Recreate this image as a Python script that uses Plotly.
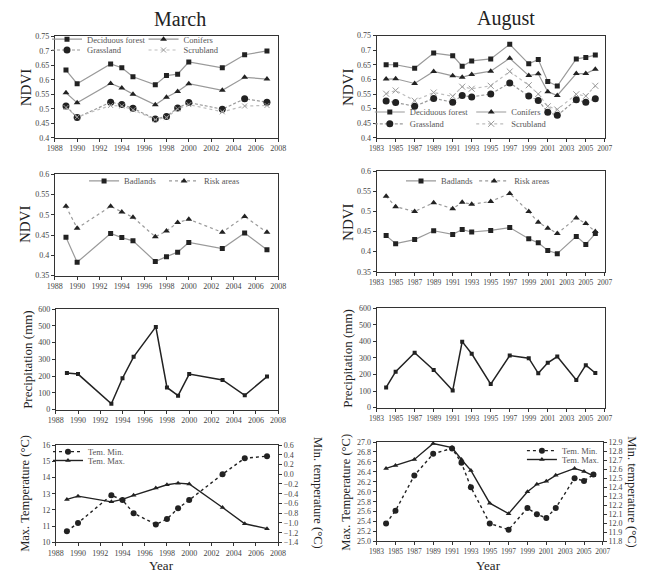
import plotly.graph_objects as go

W, H = 645, 576
FONT = "Liberation Serif"

# ---------------- data ----------------
march_years = [1989, 1990, 1993, 1994, 1995, 1997, 1998, 1999, 2000, 2003, 2005, 2007]
aug_years = [1984, 1985, 1987, 1989, 1991, 1992, 1993, 1995, 1997, 1999, 2000, 2001,
             2002, 2004, 2005, 2006]

# NDVI by land cover, March
mar_deciduous = [0.634, 0.587, 0.655, 0.642, 0.611, 0.583, 0.615, 0.620, 0.662, 0.642, 0.687, 0.700]
mar_conifers = [0.556, 0.521, 0.588, 0.572, 0.551, 0.514, 0.540, 0.560, 0.587, 0.564, 0.609, 0.603]
mar_grassland = [0.510, 0.470, 0.523, 0.515, 0.502, 0.465, 0.474, 0.503, 0.522, 0.499, 0.535, 0.523]
mar_scrubland = [0.505, 0.472, 0.512, 0.510, 0.497, 0.463, 0.470, 0.500, 0.515, 0.490, 0.510, 0.512]

# NDVI by land cover, August
aug_deciduous = [0.650, 0.650, 0.638, 0.690, 0.681, 0.645, 0.663, 0.670, 0.720, 0.653, 0.668,
                 0.593, 0.577, 0.670, 0.675, 0.683]
aug_conifers = [0.601, 0.602, 0.586, 0.627, 0.612, 0.607, 0.617, 0.628, 0.672, 0.613, 0.619,
                0.558, 0.545, 0.620, 0.620, 0.635]
aug_grassland = [0.526, 0.521, 0.508, 0.535, 0.522, 0.545, 0.540, 0.550, 0.588, 0.543, 0.528,
                 0.488, 0.477, 0.530, 0.522, 0.534]
aug_scrubland = [0.551, 0.562, 0.527, 0.555, 0.542, 0.575, 0.568, 0.578, 0.627, 0.580, 0.550,
                 0.508, 0.497, 0.549, 0.543, 0.578]

# NDVI of badlands and risk areas
mar_badlands = [0.445, 0.383, 0.454, 0.444, 0.436, 0.385, 0.397, 0.408, 0.432, 0.417, 0.455, 0.414]
mar_risk = [0.521, 0.467, 0.521, 0.507, 0.494, 0.446, 0.460, 0.481, 0.489, 0.457, 0.496, 0.457]
aug_badlands = [0.440, 0.420, 0.430, 0.452, 0.443, 0.455, 0.449, 0.453, 0.460, 0.432, 0.422,
                0.403, 0.395, 0.438, 0.418, 0.445]
aug_risk = [0.538, 0.512, 0.500, 0.522, 0.507, 0.523, 0.518, 0.525, 0.545, 0.500, 0.473,
            0.458, 0.445, 0.484, 0.470, 0.450]

# Precipitation (mm)
mar_precip = [218, 212, 35, 187, 315, 494, 132, 83, 212, 177, 85, 197]
aug_precip = [122, 217, 331, 227, 103, 398, 325, 142, 314, 298, 207, 270, 308, 166, 256, 209]

# Temperatures (degC)
mar_tmax = [12.65, 12.85, 12.50, 12.65, 12.90, 13.35, 13.55, 13.65, 13.60, 12.15, 11.15, 10.85]
mar_tmin = [-1.17, -1.00, -0.43, -0.53, -0.80, -1.03, -0.92, -0.70, -0.53, 0.00, 0.33, 0.37]
aug_tmax = [26.47, 26.53, 26.65, 26.97, 26.89, 26.65, 26.43, 25.77, 25.56, 26.00, 26.15,
            26.21, 26.33, 26.47, 26.41, 26.32]
aug_tmin = [12.00, 12.14, 12.53, 12.77, 12.83, 12.67, 12.40, 12.00, 11.93, 12.17, 12.10,
            12.06, 12.17, 12.50, 12.47, 12.54]

# ---------------- layout helpers ----------------
def xdom(l, r):
    return [l / W, r / W]


def ydom(t, b):
    return [1 - b / H, 1 - t / H]


GRAY = "#9a9a9a"
INK = "#222222"
TICKFONT = dict(family=FONT, size=8, color="#444444")

fig = go.Figure()
legends = {}


def legend_at(px, py):
    # single-entry legend box; px/py are the box's top-left corner in pixels
    return dict(x=px / W, y=1 - py / H, xanchor="left", yanchor="top",
                orientation="v", bgcolor="rgba(0,0,0,0)", borderwidth=0,
                font=dict(family=FONT, size=8.5, color="#555555"), itemwidth=30,
                tracegroupgap=0)


def line_trace(x, y, name, ax, legpos, color, dash, width, symbol, msize, mcolor,
               yaxis=None, mline=None):
    key = "legend" if not legends else f"legend{len(legends) + 1}"
    legends[key] = legend_at(*legpos)
    marker = dict(symbol=symbol, size=msize, color=mcolor)
    if mline:
        marker["line"] = mline
    fig.add_trace(go.Scatter(
        x=x, y=y, name=name, mode="lines+markers",
        xaxis=f"x{ax}", yaxis=yaxis or f"y{ax}", legend=key,
        line=dict(color=color, width=width, dash=dash),
        marker=marker,
    ))


SCRUB = dict(color="#999999", width=1)

# March NDVI land cover (axis 1)
line_trace(march_years, mar_deciduous, "Deciduous forest", 1, (40, 21), GRAY, "solid", 1.2,
           "square", 5, INK)
line_trace(march_years, mar_conifers, "Conifers", 1, (139, 21), GRAY, "solid", 1.2,
           "triangle-up", 6, INK)
line_trace(march_years, mar_grassland, "Grassland", 1, (40, 32), GRAY, "3px,2px", 1.2,
           "circle", 7, INK)
line_trace(march_years, mar_scrubland, "Scrubland", 1, (139, 32), "#bdbdbd", "dot", 1.2,
           "x-thin", 5, "#999999", mline=SCRUB)

# August NDVI land cover (axis 2)
line_trace(aug_years, aug_deciduous, "Deciduous forest", 2, (371, 95), GRAY, "solid", 1.2,
           "square", 5, INK)
line_trace(aug_years, aug_conifers, "Conifers", 2, (475, 95), GRAY, "solid", 1.2,
           "triangle-up", 6, INK)
line_trace(aug_years, aug_grassland, "Grassland", 2, (371, 107), GRAY, "3px,2px", 1.2,
           "circle", 7, INK)
line_trace(aug_years, aug_scrubland, "Scrubland", 2, (475, 107), "#bdbdbd", "dot", 1.2,
           "x-thin", 6, "#999999", mline=SCRUB)

# Badlands and risk areas (axes 3, 4)
line_trace(march_years, mar_badlands, "Badlands", 3, (78, 165), GRAY, "solid", 1.2,
           "square", 5, INK)
line_trace(march_years, mar_risk, "Risk areas", 3, (160, 165), GRAY, "dot", 1.2,
           "triangle-up", 6, INK)
line_trace(aug_years, aug_badlands, "Badlands", 4, (403, 165), GRAY, "solid", 1.2,
           "square", 5, INK)
line_trace(aug_years, aug_risk, "Risk areas", 4, (478, 165), GRAY, "dot", 1.2,
           "triangle-up", 6, INK)

# Precipitation (axes 5, 6)
for ax, yrs, vals in [(5, march_years, mar_precip), (6, aug_years, aug_precip)]:
    fig.add_trace(go.Scatter(
        x=yrs, y=vals, mode="lines+markers", showlegend=False,
        xaxis=f"x{ax}", yaxis=f"y{ax}",
        line=dict(color=INK, width=1.5), marker=dict(symbol="square", size=4, color=INK),
    ))

# Temperatures (axes 7, 8; minimum on right-hand axes 9, 10)
line_trace(march_years, mar_tmin, "Tem. Min.", 7, (41, 440), INK, "dot", 1.4,
           "circle", 6, INK, yaxis="y9")
line_trace(march_years, mar_tmax, "Tem. Max.", 7, (41, 449), INK, "solid", 1.4,
           "triangle-up", 5, INK)
line_trace(aug_years, aug_tmin, "Tem. Min.", 8, (527, 439), INK, "dot", 1.4,
           "circle", 6, INK, yaxis="y10")
line_trace(aug_years, aug_tmax, "Tem. Max.", 8, (527, 448), INK, "solid", 1.4,
           "triangle-up", 5, INK)

# panel boxes in pixels: (left, right), (top, bottom)
panels = {
    1: ((48, 277), (33, 136)),
    2: ((378, 612), (32, 136)),
    3: ((48, 277), (173, 276)),
    4: ((378, 612), (170, 272)),
    5: ((49, 277), (310, 412)),
    6: ((378, 612), (309, 410)),
    7: ((49, 277), (448, 547)),
    8: ((378, 610), (445, 546)),
}

axis_style = dict(showline=True, linecolor="#333333", linewidth=1, mirror=True,
                  ticks="outside", ticklen=3, tickcolor="#333333", tickwidth=1,
                  tickfont=TICKFONT, showgrid=False, zeroline=False)

y_ranges = {
    1: dict(range=[0.4, 0.75], dtick=0.05, tick0=0.4),
    2: dict(range=[0.4, 0.75], dtick=0.05, tick0=0.4),
    3: dict(range=[0.35, 0.6], dtick=0.05, tick0=0.35),
    4: dict(range=[0.35, 0.6], dtick=0.05, tick0=0.35),
    5: dict(range=[0, 600], dtick=100, tick0=0),
    6: dict(range=[0, 600], dtick=100, tick0=0),
    7: dict(range=[10, 16], dtick=1, tick0=10),
    8: dict(range=[25, 27], dtick=0.2, tick0=25, tickformat=".1f"),
}

layout = {}
for i, ((l, r), (t, b)) in panels.items():
    march = i % 2 == 1
    xr = dict(range=[1988, 2008], dtick=2, tick0=1988) if march else \
        dict(range=[1983, 2007], dtick=2, tick0=1983)
    xfont = TICKFONT if march else dict(TICKFONT, size=7.5)
    layout[f"xaxis{i}"] = dict(axis_style, domain=xdom(l, r), anchor=f"y{i}",
                               tickfont=xfont, **xr)
    layout[f"yaxis{i}"] = dict(axis_style, domain=ydom(t, b), anchor=f"x{i}", **y_ranges[i])

layout["yaxis9"] = dict(axis_style, overlaying="y7", side="right", anchor="x7",
                        range=[-1.4, 0.6], dtick=0.2, tick0=-1.4, tickformat=".1f",
                        mirror=False)
layout["yaxis10"] = dict(axis_style, overlaying="y8", side="right", anchor="x8",
                         range=[11.8, 12.9], dtick=0.1, tick0=11.8, tickformat=".1f",
                         mirror=False)
layout.update(legends)


def ann(text, px, py, size, angle=0):
    return dict(text=text, x=px / W, y=1 - py / H, xref="paper", yref="paper",
                showarrow=False, textangle=angle, xanchor="center", yanchor="middle",
                font=dict(family=FONT, size=size, color="#222222"))


annotations = [
    ann("March", 176, 15, 20),
    ann("August", 511, 15, 20),
    ann("NDVI", 18, 85, 15, -90),
    ann("NDVI", 348, 84, 15, -90),
    ann("NDVI", 18, 224, 15, -90),
    ann("NDVI", 348, 221, 15, -90),
    ann("Precipitation (mm)", 20, 361, 13, -90),
    ann("Precipitation (mm)", 348, 360, 13, -90),
    ann("Max. Temperature (°C)", 18, 497, 12.5, -90),
    ann("Max. Temperature (°C)", 347, 496, 12.5, -90),
    ann("Min. temperature (°C)", 318, 497, 12.5, 90),
    ann("Min. temperature (°C)", 640, 496, 12.5, 90),
    ann("Year", 157, 570, 13),
    ann("Year", 493, 570, 13),
]

fig.update_layout(
    width=W, height=H, autosize=False,
    margin=dict(l=0, r=0, t=0, b=0),
    paper_bgcolor="white", plot_bgcolor="white",
    annotations=annotations,
    **layout,
)

fig.write_html("out.html")
